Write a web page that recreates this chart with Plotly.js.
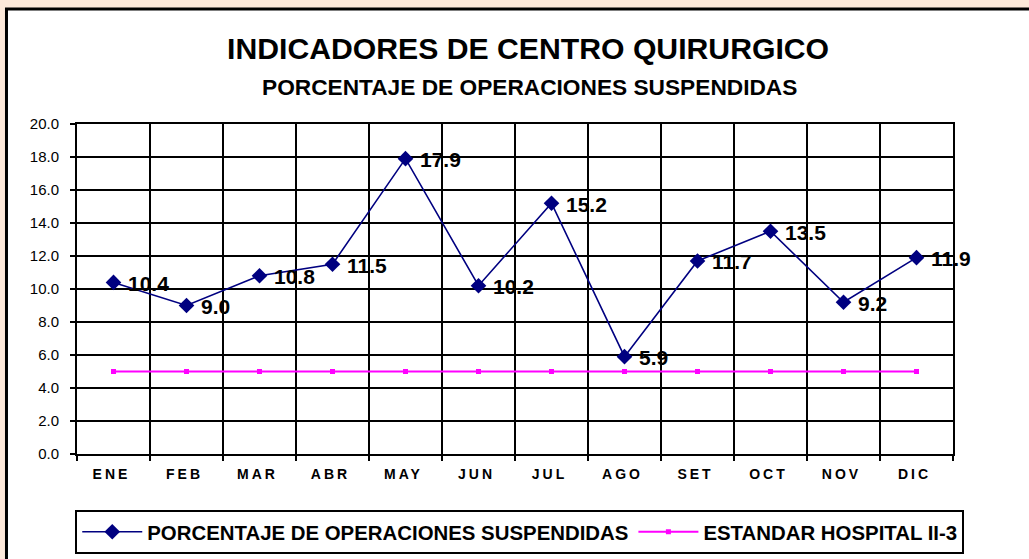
<!DOCTYPE html>
<html>
<head>
<meta charset="utf-8">
<script src="https://cdn.plot.ly/plotly-3.0.1.min.js"></script>
<style>
html,body{margin:0;padding:0;background:#FDE9DA;}
#chart{width:1029px;height:559px;}
</style>
</head>
<body>
<div id="chart"></div>
<script>
const months = ['ENE','FEB','MAR','ABR','MAY','JUN','JUL','AGO','SET','OCT','NOV','DIC'];
const suspendidas = [10.4, 9.0, 10.8, 11.5, 17.9, 10.2, 15.2, 5.9, 11.7, 13.5, 9.2, 11.9];
const estandar = [5.0, 5.0, 5.0, 5.0, 5.0, 5.0, 5.0, 5.0, 5.0, 5.0, 5.0, 5.0];
const seriesNames = ['PORCENTAJE DE OPERACIONES SUSPENDIDAS', 'ESTANDAR HOSPITAL II-3'];
const titleText = 'INDICADORES DE CENTRO QUIRURGICO';
const subtitleText = 'PORCENTAJE DE OPERACIONES SUSPENDIDAS';

const FONT = 'Arial, "Liberation Sans", sans-serif';

const traces = [
  {
    x: months, y: suspendidas, name: seriesNames[0], type: 'scatter',
    mode: 'lines+markers',
    line: {color: '#000080', width: 1.6},
    marker: {symbol: 'diamond', size: 12, color: '#000080'},
    cliponaxis: false
  },
  {
    x: months, y: estandar, name: seriesNames[1], type: 'scatter',
    mode: 'lines+markers',
    line: {color: '#FF00FF', width: 2},
    marker: {symbol: 'square', size: 5, color: '#FF00FF'},
    cliponaxis: false
  }
];

const valueLabels = months.map(function(m, i){
  return {
    x: m, y: suspendidas[i], xref: 'x', yref: 'y',
    text: suspendidas[i].toFixed(1), showarrow: false,
    xanchor: 'left', yanchor: 'middle', xshift: 12, yshift: -1,
    font: {family: FONT, size: 21, color: '#000000', weight: 'bold'}
  };
});

const layout = {
  width: 1029, height: 559,
  margin: {l: 77, r: 76, t: 124, b: 105, autoexpand: false},
  paper_bgcolor: '#FDE9DA',
  plot_bgcolor: '#FFFFFF',
  showlegend: true,
  font: {family: FONT, color: '#000000'},
  xaxis: {
    type: 'category',
    range: [-0.5, 11.5],
    tickson: 'boundaries',
    ticks: 'outside', ticklen: 5, tickwidth: 2, tickcolor: '#000000',
    showgrid: true, gridcolor: '#000000', gridwidth: 2,
    showline: true, linecolor: '#000000', linewidth: 2, mirror: true,
    tickfont: {family: FONT, size: 14, color: '#000000', weight: 'bold'},
    ticklabelstandoff: 6,
    fixedrange: true
  },
  yaxis: {
    range: [0, 20], dtick: 2, tick0: 0, tickformat: '.1f',
    ticks: 'outside', ticklen: 5, tickwidth: 2, tickcolor: '#000000',
    showgrid: true, gridcolor: '#000000', gridwidth: 2,
    showline: true, linecolor: '#000000', linewidth: 2, mirror: true,
    zeroline: false,
    tickfont: {family: FONT, size: 15, color: '#000000'},
    ticklabelstandoff: 8,
    fixedrange: true
  },
  legend: {
    orientation: 'h', x: -0.002, y: -0.1697, xanchor: 'left', yanchor: 'top',
    bordercolor: '#000000', borderwidth: 2, bgcolor: '#FFFFFF',
    font: {family: FONT, size: 20.4, color: '#000000', weight: 'bold'},
    itemwidth: 60,
    maxheight: 80
  },
  shapes: [{
    type: 'rect', xref: 'paper', yref: 'paper', layer: 'below',
    x0: -0.0805, x1: 1.2, y0: -0.5, y1: 1.3485,
    fillcolor: '#FFFFFF', line: {color: '#000000', width: 3}
  }],
  annotations: [
    {text: titleText, xref: 'paper', yref: 'paper', x: 0.5145, y: 1.2288,
     xanchor: 'center', yanchor: 'middle', showarrow: false,
     font: {family: FONT, size: 30.2, color: '#000000', weight: 'bold'}},
    {text: subtitleText, xref: 'paper', yref: 'paper', x: 0.5165, y: 1.1136,
     xanchor: 'center', yanchor: 'middle', showarrow: false,
     font: {family: FONT, size: 22.7, color: '#000000', weight: 'bold'}}
  ].concat(valueLabels)
};

Plotly.newPlot('chart', traces, layout, {displayModeBar: false, staticPlot: true}).then(function(){
  document.querySelectorAll('.xtick text').forEach(function(t){
    t.style.letterSpacing = '3px';
    t.setAttribute('dx', '-2');
  });
});
</script>
</body>
</html>
